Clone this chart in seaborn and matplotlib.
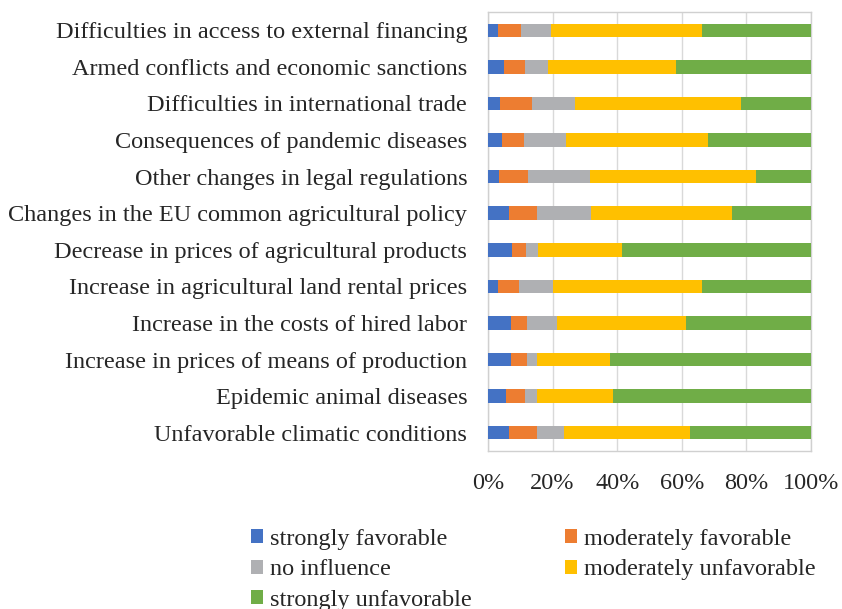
import matplotlib
matplotlib.use("Agg")
import matplotlib.pyplot as plt
import seaborn as sns
import pandas as pd
import numpy as np
from matplotlib.patches import Patch

categories = [
    "Difficulties in access to external financing",
    "Armed conflicts and economic sanctions",
    "Difficulties in international trade",
    "Consequences of pandemic diseases",
    "Other changes in legal regulations",
    "Changes in the EU common agricultural policy",
    "Decrease in prices of agricultural products",
    "Increase in agricultural land rental prices",
    "Increase in the costs of hired labor",
    "Increase in prices of means of production",
    "Epidemic animal diseases",
    "Unfavorable climatic conditions",
]
strongly_favorable     = [3.1, 5.1, 3.8, 4.4, 3.4, 6.6, 7.4, 3.1, 7.2, 7.2, 5.6, 6.6]
moderately_favorable   = [7.1, 6.4, 9.9, 6.7, 9.0, 8.7, 4.3, 6.4, 4.9, 4.9, 5.8, 8.7]
no_influence           = [9.3, 7.2, 13.3, 13.0, 19.3, 16.7, 3.8, 10.6, 9.3, 3.1, 3.8, 8.4]
moderately_unfavorable = [46.7, 39.5, 51.4, 43.9, 51.2, 43.5, 26.1, 46.0, 39.9, 22.6, 23.4, 38.9]
strongly_unfavorable   = [33.8, 41.9, 21.5, 32.0, 17.1, 24.5, 58.4, 33.9, 38.7, 62.2, 61.4, 37.5]

series_names = ["strongly favorable", "moderately favorable", "no influence",
                "moderately unfavorable", "strongly unfavorable"]
series = [strongly_favorable, moderately_favorable, no_influence,
          moderately_unfavorable, strongly_unfavorable]
colors = ["#4472C4", "#ED7D31", "#AFB0B3", "#FFC000", "#70AD47"]
xticks = [0, 20, 40, 60, 80, 100]
xtick_labels = ["0%", "20%", "40%", "60%", "80%", "100%"]

sns.set_theme(style="white")
plt.rcParams['font.family'] = ['Liberation Serif', 'DejaVu Serif']

FS = 17.5

fig = plt.figure(figsize=(8.42, 6.09), dpi=100)
ax = fig.add_axes([488/842, 1-451/609, (811-488)/842, (451-12)/609])

vals = np.array(series, dtype=float)
totals = vals.sum(axis=0)
pct = vals / totals * 100
cum = np.cumsum(pct, axis=0)

for i in range(len(series) - 1, -1, -1):
    df = pd.DataFrame({"cat": categories, "val": cum[i]})
    sns.barplot(data=df, x="val", y="cat", orient="h", color=colors[i],
                width=0.37, ax=ax, saturation=1, linewidth=0, zorder=3)

ax.set_xlim(0, 100)
ax.set_xticks(xticks)
ax.set_xticklabels(xtick_labels)
ax.set_xlabel("")
ax.set_ylabel("")
ax.grid(axis="x", color="#D9D9D9", linewidth=1, zorder=0)
ax.set_axisbelow(True)
for s in ax.spines.values():
    s.set_visible(True)
    s.set_color("#D0D0D0")
    s.set_linewidth(1)
ax.tick_params(axis="y", length=0, pad=15, labelsize=FS, labelcolor="#262626")
ax.tick_params(axis="x", length=0, pad=16, labelsize=FS, labelcolor="#262626")

handles = [Patch(facecolor=c, edgecolor="none") for c in colors]
order = [0, 2, 4, 1, 3]
fig.legend([handles[k] for k in order], [series_names[k] for k in order],
           ncol=2, loc="upper left", bbox_to_anchor=(251/842, 1-529/609),
           frameon=False, fontsize=FS, handlelength=0.5, handleheight=0.5,
           handletextpad=0.3, columnspacing=3.8, labelspacing=0.39,
           borderaxespad=0, borderpad=0, labelcolor="#262626")

fig.savefig("out.png", dpi=100)
